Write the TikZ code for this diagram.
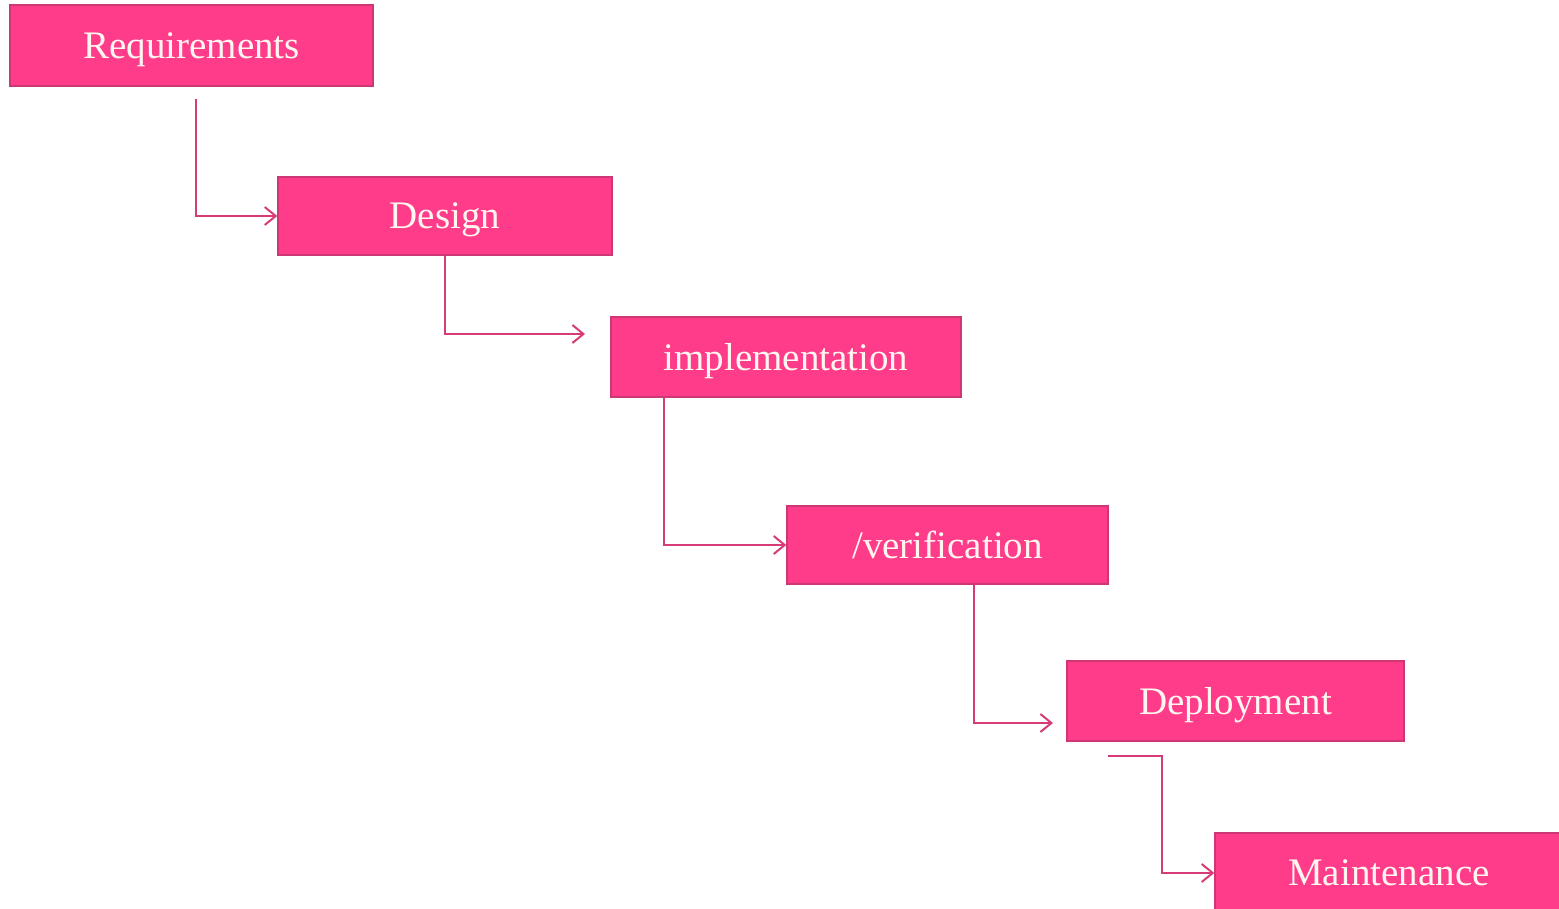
\documentclass[tikz,border=0pt]{standalone}
\usepackage{fontspec}
\setmainfont{Liberation Serif}
\usetikzlibrary{arrows.meta}
\definecolor{boxfill}{RGB}{255,60,138}
\definecolor{boxline}{RGB}{205,55,115}
\definecolor{linkcol}{RGB}{214,60,120}
\definecolor{txtcol}{RGB}{255,246,240}
\begin{document}
\begin{tikzpicture}[x=0.5pt,y=-0.5pt,
  stagebox/.style={draw=boxline,line width=0.7pt,fill=boxfill,inner sep=0pt,
    text=txtcol,text depth=0pt,font=\fontsize{19.5}{22}\selectfont},
  link/.style={draw=linkcol,line width=1pt,
    -{Straight Barb[length=5.5pt,width=9pt,line width=1pt]}}]
\useasboundingbox (0,0) rectangle (1559,909);
\fill[white] (0,0) rectangle (1559,909);
\node[stagebox,minimum width=181.5pt,minimum height=40.5pt] (req) at (191.5,45.5) {Requirements};
\node[stagebox,minimum width=167pt,minimum height=39pt] (des) at (445,216) {Design};
\node[stagebox,minimum width=175pt,minimum height=40pt] (imp) at (786,357) {implementation};
\node[stagebox,minimum width=160.5pt,minimum height=39pt] (ver) at (947.5,545) {/verification};
\node[stagebox,minimum width=168.5pt,minimum height=40pt] (dep) at (1235.5,701) {Deployment};
\node[stagebox,minimum width=174pt,minimum height=40pt] (mai) at (1389,873) {Maintenance};
\coordinate (c1) at (196,99);
\coordinate (c2) at (585,334);
\coordinate (c4) at (1053,723);
\coordinate (c5) at (1108,756);
\draw[link] (c1) |- (des.west);
\draw[link] (des.south) |- (c2);
\draw[link] (imp.south west) ++(54,0) coordinate (i0) (i0) |- (ver.west);
\draw[link] (ver.south) ++(26,0) coordinate (v0) (v0) |- (c4);
\draw[link] (c5) -- ++(54,0) |- (mai.west);
\end{tikzpicture}
\end{document}
